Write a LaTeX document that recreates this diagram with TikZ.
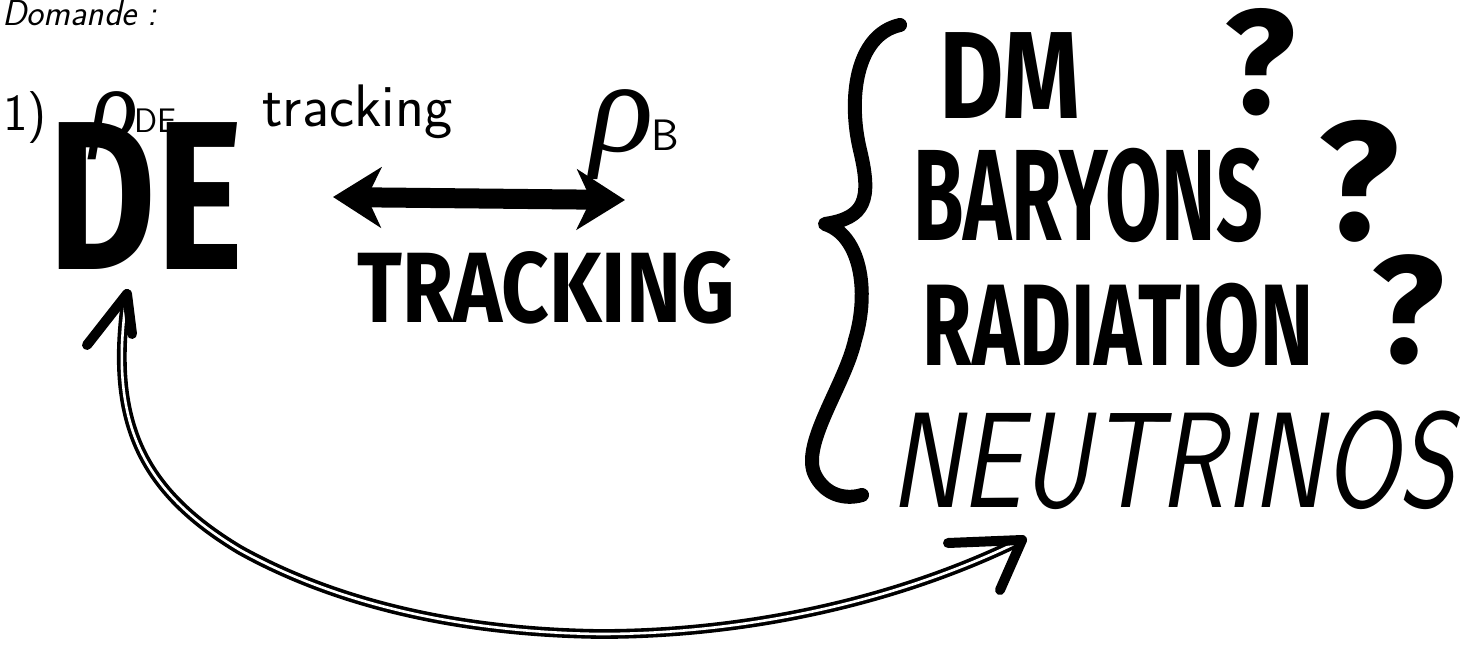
\documentclass[tikz,border=0pt]{standalone}
\usepackage{fontspec}
\usepackage{graphicx}
\usetikzlibrary{arrows.meta}
\newfontfamily\marker{Fira Sans}
\newfontfamily\greekpen{Liberation Serif}
\tikzset{
  big/.style={inner sep=0pt, font=\marker\bfseries},
  pen/.style={inner sep=0pt, font=\sffamily},
  rho/.style={inner sep=0pt, font=\greekpen\itshape},
  bracestroke/.style={line width=7pt, line cap=round, line join=round},
  barb/.style={line width=5pt, line cap=round, line join=round},
  dbl/.style={double=white, line width=1.8pt, double distance=1.3pt, line cap=round},
  fat/.style={line width=10pt, {Stealth[length=24pt,width=30pt,inset=7pt]}-{Stealth[length=24pt,width=30pt,inset=7pt]}}
}
\begin{document}
\begin{tikzpicture}[x=0.5pt,y=-0.5pt]
\useasboundingbox (0,0) rectangle (1470,652);
% top-left notes
\node[pen, anchor=base west] (dom) at (2,26) {\fontsize{18}{18}\selectfont\itshape Domande :};
\node[pen] (one) at (25,118) {\fontsize{26}{26}\selectfont 1)};
\node[rho] (rhoDE) at (114,126) {\fontsize{50}{50}\selectfont ρ};
\node[pen] (subDE) at (156,121) {\fontsize{17}{17}\selectfont DE};
\node[pen, anchor=base west] (trk) at (262,127) {\fontsize{30}{30}\selectfont tracking};
\node[rho] (rhoB) at (622,135) {\fontsize{66}{66}\selectfont ρ};
\node[pen] (subB) at (665,135) {\fontsize{22}{22}\selectfont B};
% big words
\node[big] (DE) at (146,196) {\scalebox{0.78}[1]{\fontsize{106}{106}\selectfont DE}};
\coordinate (aL) at (333,197);
\coordinate (aR) at (625,200);
\draw[fat] (aL) -- (aR);
\node[big] (TRK) at (546,288) {\scalebox{0.83}[1]{\fontsize{50}{50}\selectfont TRACKING}};
% brace
\draw[bracestroke] (900,25) .. controls (855,35) and (848,100) .. (860,150)
  .. controls (872,200) and (865,218) .. (825,224)
  .. controls (860,235) and (870,290) .. (855,340)
  .. controls (845,385) and (800,445) .. (815,475)
  .. controls (825,495) and (845,500) .. (862,495);
% list
\node[big] (DM) at (1010,76) {\scalebox{0.8}[1]{\fontsize{62}{62}\selectfont DM}};
\node[big] (q1) at (1260,62) {\fontsize{74}{74}\selectfont ?};
\node[big] (BAR) at (1088,195) {\scalebox{0.63}[1]{\fontsize{65}{65}\selectfont BARYONS}};
\node[big] (q2) at (1359,181) {\fontsize{84}{84}\selectfont ?};
\node[big] (RAD) at (1118,325) {\scalebox{0.69}[1]{\fontsize{58}{58}\selectfont RADIATION}};
\node[big] (q3) at (1408,310) {\fontsize{76}{76}\selectfont ?};
\node[pen, anchor=west] (NEU) at (890,460) {\scalebox{0.79}[1]{\fontsize{68}{68}\selectfont\itshape NEUTRINOS}};
% curved double arrow
\coordinate (tipL) at (127,294);
\coordinate (tipR) at (1022,540);
\draw[dbl] (tipL) .. controls (108,420) and (140,490) .. (240,550)
  .. controls (330,600) and (450,632) .. (600,634)
  .. controls (750,634) and (900,600) .. (tipR);
\draw[barb] ([shift={(-40,51)}]tipL) -- (tipL) -- ([shift={(5,40)}]tipL);
\draw[barb] ([shift={(-74,3)}]tipR) -- (tipR) -- ([shift={(-22,50)}]tipR);
\end{tikzpicture}
\end{document}
